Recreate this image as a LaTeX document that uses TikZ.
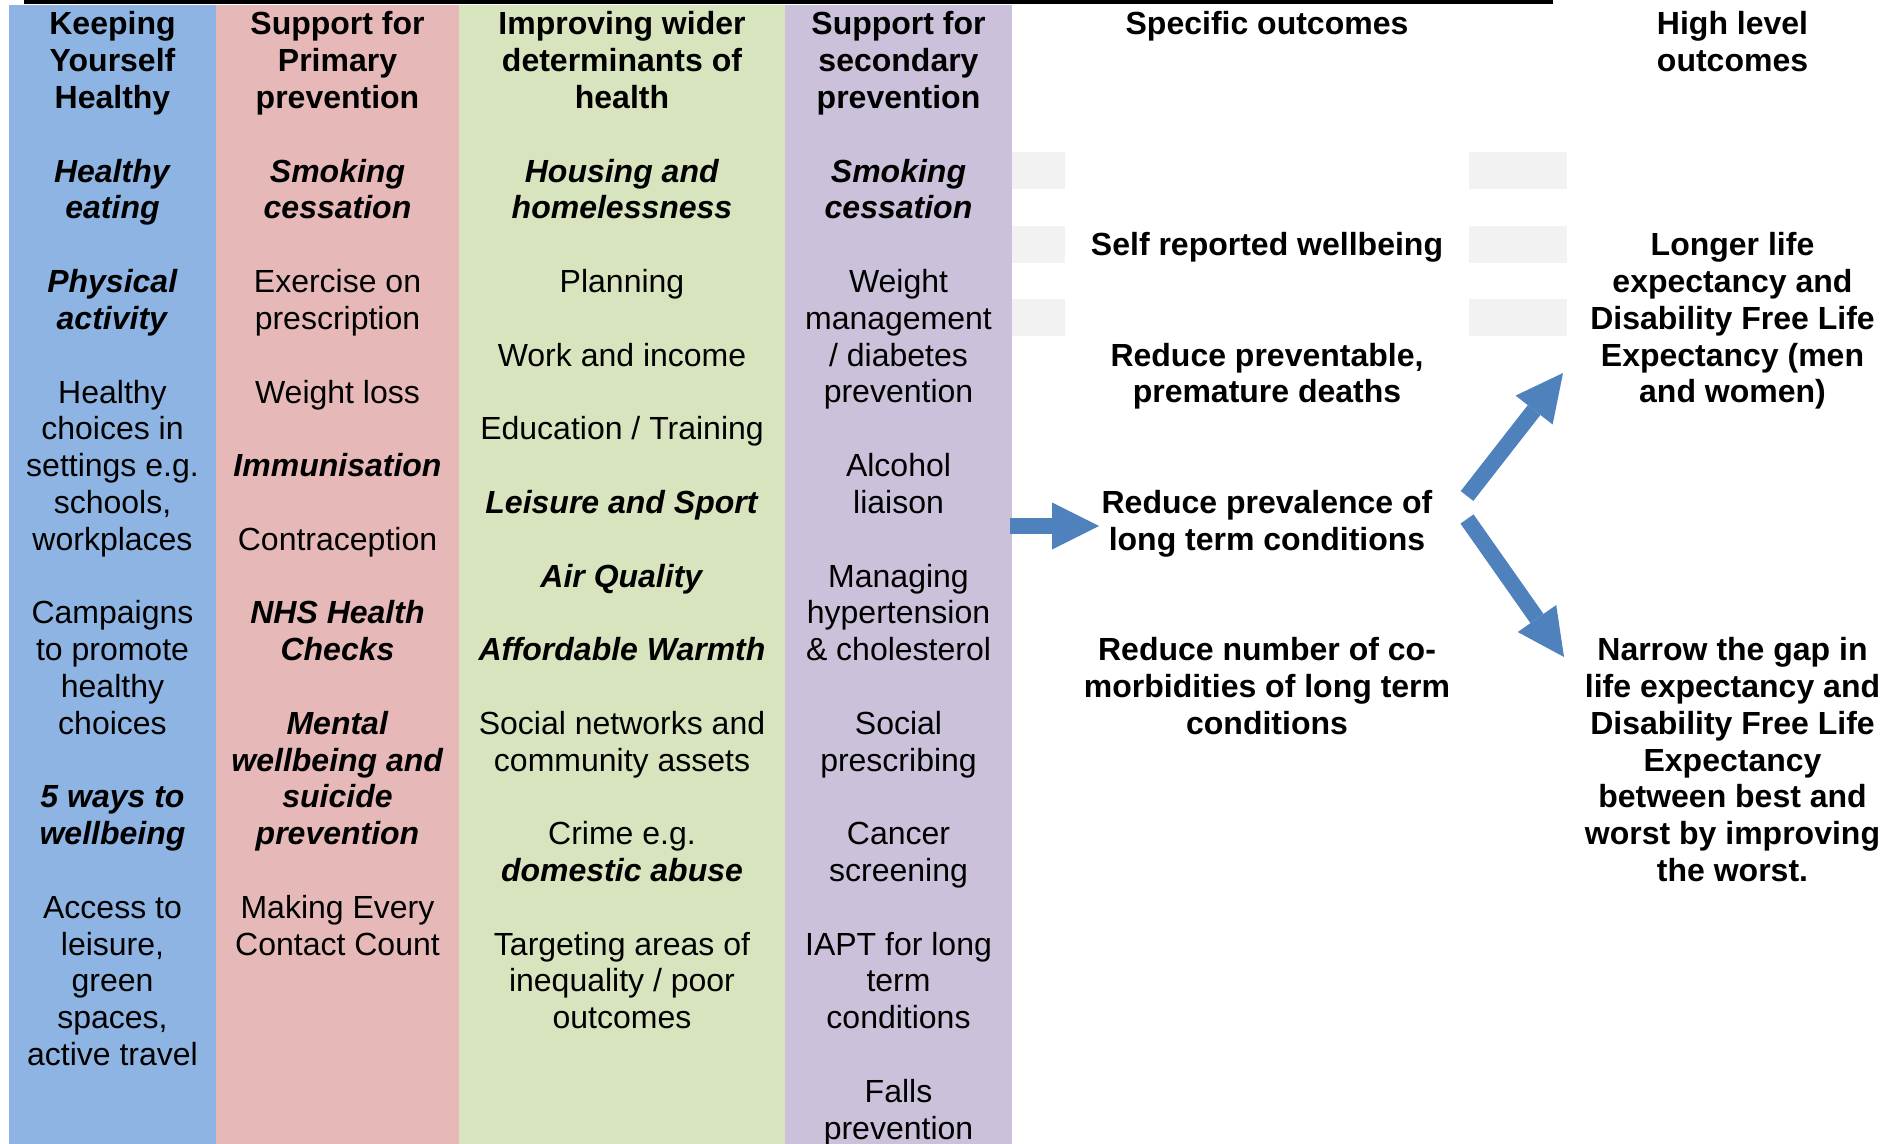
\documentclass[tikz,border=0pt]{standalone}
\usepackage{fontspec}
\setmainfont{Liberation Sans}
\usetikzlibrary{arrows.meta}

\definecolor{colblue}{RGB}{141,180,226}
\definecolor{colpink}{RGB}{230,185,184}
\definecolor{colgreen}{RGB}{215,228,189}
\definecolor{colpurple}{RGB}{204,193,218}
\definecolor{arrowblue}{RGB}{79,129,189}
\definecolor{pale}{RGB}{242,242,242}

% stacked, centred lines whose reference point is the first baseline
\newcommand\stack[1]{\begin{tabular}[t]{@{}c@{}}#1\end{tabular}}
\newcommand\bi[1]{\textbf{\textit{#1}}}
% baseline of text row #1
\newcommand\rowy[1]{35+36.8*#1}

\begin{document}
\begin{tikzpicture}[x=0.5pt,y=-0.5pt,
  txt/.style={anchor=base, inner sep=0pt, font=\fontsize{16}{18.4}\selectfont},
  hdr/.style={txt, font=\fontsize{16}{18.4}\selectfont\bfseries},
  blockarrow/.style={draw=arrowblue, line width=8pt,
    -{Triangle[length=23.5pt,width=23.5pt,line width=0pt]}},
  palebox/.style={fill=pale}]
\useasboundingbox (0,0) rectangle (1898,1144);

% column backgrounds
\fill[colblue]   (9,5)   rectangle (216,1144);
\fill[colpink]   (216,5) rectangle (459,1144);
\fill[colgreen]  (459,5) rectangle (785,1144);
\fill[colpurple] (785,5) rectangle (1012,1144);
\fill[black] (24,0) rectangle (1553,4);

% pale placeholder boxes
\foreach \yt in {152,226,299}{
  \fill[palebox] (1012,\yt) rectangle (1065,\yt+37);
  \fill[palebox] (1469,\yt) rectangle (1567,\yt+37);
}

% Keeping Yourself Healthy
\node[hdr] (kyhHead) at (112.5,{\rowy{0}}) {\stack{Keeping\\Yourself\\Healthy}};
\node[txt] (kyhA) at (112.5,{\rowy{4}})  {\stack{\bi{Healthy}\\\bi{eating}}};
\node[txt] (kyhB) at (112.5,{\rowy{7}})  {\stack{\bi{Physical}\\\bi{activity}}};
\node[txt] (kyhC) at (112.5,{\rowy{10}}) {\stack{Healthy\\choices in\\settings e.g.\\schools,\\workplaces}};
\node[txt] (kyhD) at (112.5,{\rowy{16}}) {\stack{Campaigns\\to promote\\healthy\\choices}};
\node[txt] (kyhE) at (112.5,{\rowy{21}}) {\stack{\bi{5 ways to}\\\bi{wellbeing}}};
\node[txt] (kyhF) at (112.5,{\rowy{24}}) {\stack{Access to\\leisure,\\green\\spaces,\\active travel}};

% Support for Primary prevention
\node[hdr] (priHead) at (337.5,{\rowy{0}}) {\stack{Support for\\Primary\\prevention}};
\node[txt] (priA) at (337.5,{\rowy{4}})  {\stack{\bi{Smoking}\\\bi{cessation}}};
\node[txt] (priB) at (337.5,{\rowy{7}})  {\stack{Exercise on\\prescription}};
\node[txt] (priC) at (337.5,{\rowy{10}}) {Weight loss};
\node[txt] (priD) at (337.5,{\rowy{12}}) {\bi{Immunisation}};
\node[txt] (priE) at (337.5,{\rowy{14}}) {Contraception};
\node[txt] (priF) at (337.5,{\rowy{16}}) {\stack{\bi{NHS Health}\\\bi{Checks}}};
\node[txt] (priG) at (337.5,{\rowy{19}}) {\stack{\bi{Mental}\\\bi{wellbeing and}\\\bi{suicide}\\\bi{prevention}}};
\node[txt] (priH) at (337.5,{\rowy{24}}) {\stack{Making Every\\Contact Count}};

% Improving wider determinants of health
\node[hdr] (widHead) at (622,{\rowy{0}}) {\stack{Improving wider\\determinants of\\health}};
\node[txt] (widA) at (622,{\rowy{4}})  {\stack{\bi{Housing and}\\\bi{homelessness}}};
\node[txt] (widB) at (622,{\rowy{7}})  {Planning};
\node[txt] (widC) at (622,{\rowy{9}})  {Work and income};
\node[txt] (widD) at (622,{\rowy{11}}) {Education / Training};
\node[txt] (widE) at (622,{\rowy{13}}) {\bi{Leisure and Sport}};
\node[txt] (widF) at (622,{\rowy{15}}) {\bi{Air Quality}};
\node[txt] (widG) at (622,{\rowy{17}}) {\bi{Affordable Warmth}};
\node[txt] (widH) at (622,{\rowy{19}}) {\stack{Social networks and\\community assets}};
\node[txt] (widI) at (622,{\rowy{22}}) {\stack{Crime e.g.\\\bi{domestic abuse}}};
\node[txt] (widJ) at (622,{\rowy{25}}) {\stack{Targeting areas of\\inequality / poor\\outcomes}};

% Support for secondary prevention
\node[hdr] (secHead) at (898.5,{\rowy{0}}) {\stack{Support for\\secondary\\prevention}};
\node[txt] (secA) at (898.5,{\rowy{4}})  {\stack{\bi{Smoking}\\\bi{cessation}}};
\node[txt] (secB) at (898.5,{\rowy{7}})  {\stack{Weight\\management\\/ diabetes\\prevention}};
\node[txt] (secC) at (898.5,{\rowy{12}}) {\stack{Alcohol\\liaison}};
\node[txt] (secD) at (898.5,{\rowy{15}}) {\stack{Managing\\hypertension\\\& cholesterol}};
\node[txt] (secE) at (898.5,{\rowy{19}}) {\stack{Social\\prescribing}};
\node[txt] (secF) at (898.5,{\rowy{22}}) {\stack{Cancer\\screening}};
\node[txt] (secG) at (898.5,{\rowy{25}}) {\stack{IAPT for long\\term\\conditions}};
\node[txt] (secH) at (898.5,{\rowy{29}}) {\stack{Falls\\prevention}};

% Specific outcomes
\node[hdr] (spHead) at (1267,{\rowy{0}})  {Specific outcomes};
\node[hdr] (spWell) at (1267,{\rowy{6}})  {Self reported wellbeing};
\node[hdr] (spDeath) at (1267,{\rowy{9}}) {\stack{Reduce preventable,\\premature deaths}};
\node[hdr] (spLtc) at (1267,{\rowy{13}})  {\stack{Reduce prevalence of\\long term conditions}};
\node[hdr] (spCo) at (1267,{\rowy{17}})   {\stack{Reduce number of co-\\morbidities of long term\\conditions}};

% High level outcomes
\node[hdr] (hlHead) at (1732.5,{\rowy{0}}) {\stack{High level\\outcomes}};
\node[hdr] (hlLife) at (1732.5,{\rowy{6}}) {\stack{Longer life\\expectancy and\\Disability Free Life\\Expectancy (men\\and women)}};
\node[hdr] (hlGap) at (1732.5,{\rowy{17}}) {\stack{Narrow the gap in\\life expectancy and\\Disability Free Life\\Expectancy\\between best and\\worst by improving\\the worst.}};

% connectors
\coordinate (inTail) at (1010,526);
\coordinate (inTip)  at (1099,526);
\coordinate (upTail) at (1467,496);
\coordinate (upTip)  at (1563,373);
\coordinate (dnTail) at (1467,519);
\coordinate (dnTip)  at (1564,657);
\draw[blockarrow] (inTail) -- (inTip);
\draw[blockarrow] (upTail) -- (upTip);
\draw[blockarrow] (dnTail) -- (dnTip);
\end{tikzpicture}
\end{document}
